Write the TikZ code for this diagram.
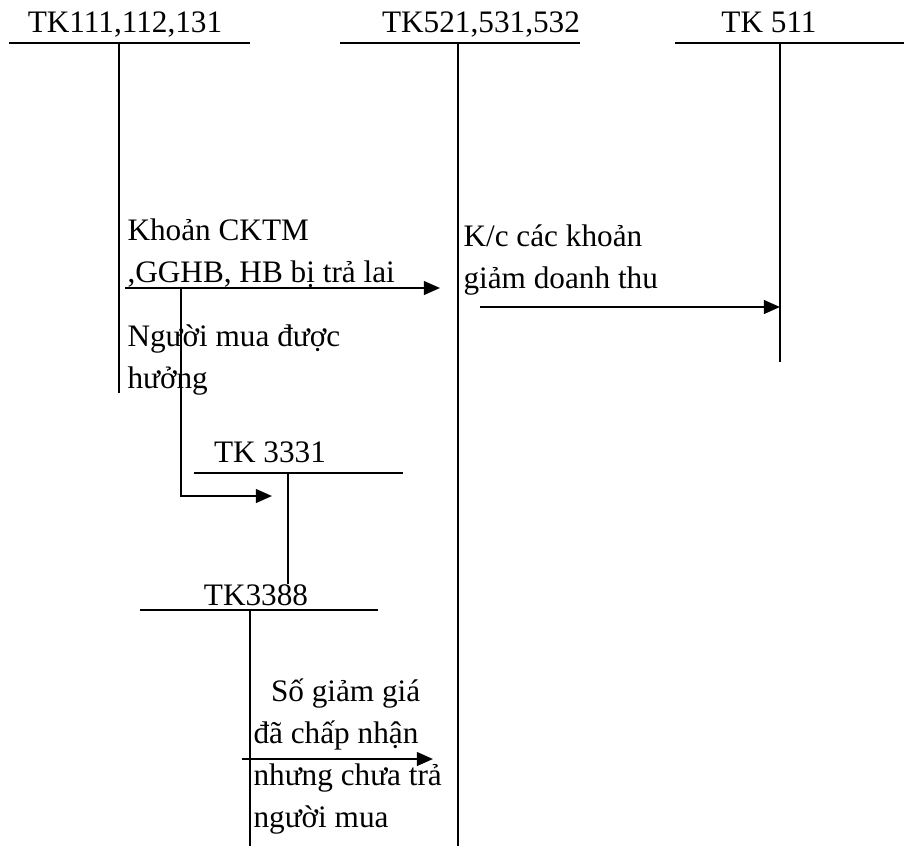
\documentclass[tikz,border=0pt]{standalone}
\usepackage{fontspec}
\setmainfont{Liberation Serif}
\usetikzlibrary{arrows.meta}

\begin{document}
\begin{tikzpicture}[x=0.4pt, y=-0.4pt]
    \tikzset{
        tline/.style={line width=0.55pt},
        entry/.style={
            -{Triangle[length=6.5pt, width=5.5pt]},
            line width=0.9pt
        },
        title/.style={
            anchor=base, inner sep=0pt,
            font=\fontsize{12.5}{14}\selectfont
        },
        memo/.style={
            anchor=base west, inner sep=0pt, align=left,
            font=\fontsize{12.5}{16.8}\selectfont
        },
    }
    \useasboundingbox (0,0) rectangle (904,846);

    % ==== TK111,112,131 ====
    \node[title] (tk111) at (125,33) {TK111,112,131};
    \coordinate (tk111l) at (9,43);
    \coordinate (tk111r) at (250,43);
    \coordinate (tk111t) at (119,43);
    \coordinate (tk111b) at (119,393);
    \draw[tline] (tk111l) -- (tk111r);
    \draw[tline] (tk111t) -- (tk111b);

    % ==== TK521,531,532 ====
    \node[title] (tk521) at (481,33) {TK521,531,532};
    \coordinate (tk521l) at (340,43);
    \coordinate (tk521r) at (580,43);
    \coordinate (tk521t) at (458,43);
    \coordinate (tk521b) at (458,846);
    \draw[tline] (tk521l) -- (tk521r);
    \draw[tline] (tk521t) -- (tk521b);

    % ==== TK 511 ====
    \node[title] (tk511) at (769,33) {TK 511};
    \coordinate (tk511l) at (675,43);
    \coordinate (tk511r) at (904,43);
    \coordinate (tk511t) at (780,43);
    \coordinate (tk511b) at (780,362);
    \draw[tline] (tk511l) -- (tk511r);
    \draw[tline] (tk511t) -- (tk511b);

    % ==== TK 3331 ====
    \node[title] (tk3331) at (270,462) {TK 3331};
    \coordinate (tk3331l) at (194,473);
    \coordinate (tk3331r) at (403,473);
    \coordinate (tk3331t) at (288,473);
    \coordinate (tk3331b) at (288,584);
    \draw[tline] (tk3331l) -- (tk3331r);
    \draw[tline] (tk3331t) -- (tk3331b);

    % ==== TK3388 ====
    \node[title] (tk3388) at (256,605) {TK3388};
    \coordinate (tk3388l) at (140,610);
    \coordinate (tk3388r) at (378,610);
    \coordinate (tk3388t) at (250,610);
    \coordinate (tk3388b) at (250,846);
    \draw[tline] (tk3388l) -- (tk3388r);
    \draw[tline] (tk3388t) -- (tk3388b);

    % ==== entries (anchored at the last line) ====
    \node[memo] (ckt) at (127,282) {Khoản CKTM\\,GGHB, HB bị trả lai};
    \node[memo] (ngm) at (127,388) {Người mua được\\hưởng};
    \node[memo] (kc) at (463,288) {K/c các khoản\\giảm doanh thu};
    \node[memo] (sgg) at (253,827)
        {\hspace*{7pt}Số giảm giá\\đã chấp nhận\\nhưng chưa trả\\người mua};

    \coordinate (e1s) at (125,288);
    \coordinate (e1e) at (440,288);
    \coordinate (e1v) at (181,288);
    \coordinate (e3e) at (272,496);
    \coordinate (e2s) at (480,307);
    \coordinate (e2e) at (780,307);
    \coordinate (e4s) at (242,759);
    \coordinate (e4e) at (433,759);
    \draw[entry] (e1s) -- (e1e);
    \draw[entry] (e1v) |- (e3e);
    \draw[entry] (e2s) -- (e2e);
    \draw[entry] (e4s) -- (e4e);

\end{tikzpicture}
\end{document}
